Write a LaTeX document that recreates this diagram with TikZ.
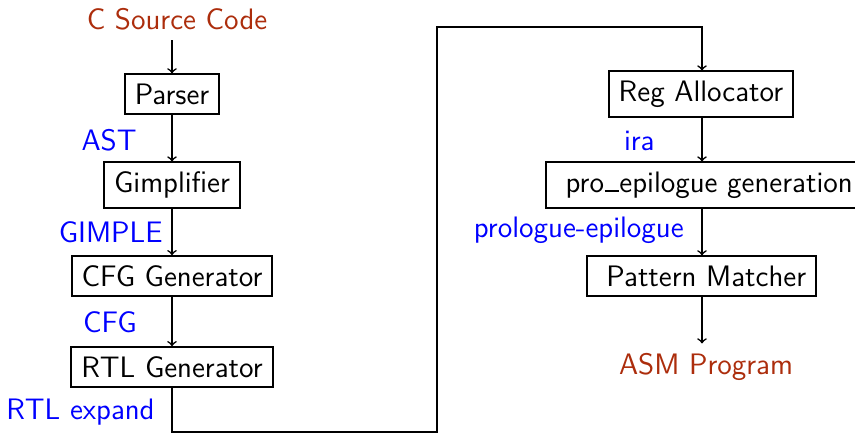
\documentclass[tikz,border=0pt]{standalone}
\usetikzlibrary{arrows}
\definecolor{srcred}{RGB}{172,45,12}
\newcommand{\lowbar}{\kern0.03em\rule{0.46em}{0.075em}\kern0.03em}
\begin{document}
\begin{tikzpicture}[x=0.5pt,y=-0.5pt,
  font=\sffamily\fontsize{14.8}{18}\selectfont,
  box/.style={draw,line width=1pt,inner xsep=5pt,inner ysep=4.6pt},
  io/.style={text=srcred,inner sep=4.5pt},
  lbl/.style={text=blue,anchor=base east,inner sep=0pt},
  flow/.style={->,thick}]
\useasboundingbox (0,0) rectangle (855,433);
\node[io,anchor=base] (src) at (177,30) {C Source Code};
\node[box] (parser) at (172,94) {Parser};
\node[box] (gimp) at (172,185) {Gimplifier};
\node[box] (cfg) at (172,276) {CFG Generator};
\node[box] (rtl) at (172,367) {RTL Generator};
\node[box] (reg) at (701,94) {Reg Allocator};
\node[box,anchor=west] (pro) at (545,185) {\ pro\lowbar epilogue generation};
\node[box] (pat) at (701.5,276) {\ Pattern Matcher};
\node[io,anchor=base] (asm) at (706,374) {ASM Program};
\node[lbl] (l1) at (137,150) {AST};
\node[lbl] (l2) at (163,242) {GIMPLE};
\node[lbl] (l3) at (137,332) {CFG};
\node[lbl] (l4) at (155,419) {RTL expand};
\node[lbl] (l5) at (655,150) {ira};
\node[lbl] (l6) at (684,237) {prologue-epilogue};
\coordinate (c1) at (172,432);
\coordinate (c2) at (437,432);
\coordinate (c3) at (437,27);
\coordinate (c4) at (702,27);
\draw[flow] (src.south -| parser.north) -- (parser);
\draw[flow] (parser) -- (gimp);
\draw[flow] (gimp) -- (cfg);
\draw[flow] (cfg) -- (rtl);
\draw[flow] (rtl.south) -- (c1) -- (c2) -- (c3) -- (c4) -- (c4 |- reg.north);
\draw[flow] (reg.south -| c4) -- (c4 |- pro.north);
\draw[flow] (pro.south -| c4) -- (c4 |- pat.north);
\draw[flow] (pat.south -| c4) -- (c4 |- asm.north);
\end{tikzpicture}
\end{document}
